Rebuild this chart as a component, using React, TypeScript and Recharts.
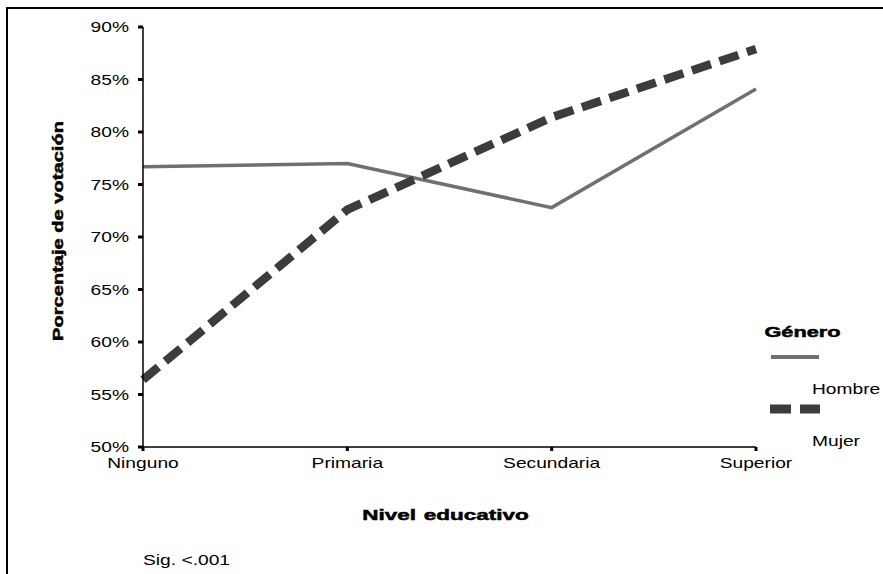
import { LineChart, Line, XAxis, YAxis, Label } from 'recharts';

const niveles = ['Ninguno', 'Primaria', 'Secundaria', 'Superior'];
const hombre = [0.767, 0.770, 0.728, 0.841];
const mujer = [0.564, 0.726, 0.814, 0.879];
const yTicks = [0.5, 0.55, 0.6, 0.65, 0.7, 0.75, 0.8, 0.85, 0.9];

const data = niveles.map((n, i) => ({ nivel: n, Hombre: hombre[i], Mujer: mujer[i] }));

const font = '"Liberation Sans", Arial, sans-serif';
const SX = 1.28; // reference text is stretched wide
const pct = (v: number) => `${Math.round(v * 100)}%`;
const heavy = { fontWeight: 'bold' as const, stroke: '#000', strokeWidth: 0.5 };

const YTick = (p: any) => (
  <g transform={`translate(${p.x},${p.y}) scale(${SX},1)`}>
    <text x={0} y={0} dy="0.36em" textAnchor="end" fontSize={15} fill="#000" fontFamily={font}>{pct(p.payload.value)}</text>
  </g>
);

const XTick = (p: any) => (
  <g transform={`translate(${p.x},${p.y}) scale(${SX},1)`}>
    <text x={0} y={0} dy={12} textAnchor="middle" fontSize={15} fill="#000" fontFamily={font}>{p.payload.value}</text>
  </g>
);

const YTitle = (p: any) => {
  const vb = p.viewBox;
  return (
    <g transform={`translate(${vb.x + 20},${vb.y + vb.height / 2 - 6}) rotate(-90) scale(1.34,1)`}>
      <text x={0} y={0} textAnchor="middle" fontSize={15} fill="#000" fontFamily={font} {...heavy}>Porcentaje de votación</text>
    </g>
  );
};

const XTitle = (p: any) => {
  const vb = p.viewBox;
  return (
    <g transform={`translate(${vb.x + vb.width / 2 - 4},${vb.y + 73}) scale(1.5,1)`}>
      <text x={0} y={0} textAnchor="middle" fontSize={15} fill="#000" fontFamily={font} wordSpacing={1} {...heavy}>Nivel educativo</text>
    </g>
  );
};

const LegendBox = () => (
  <svg width={120} height={140} style={{ position: 'absolute', left: 763, top: 318, fontFamily: font }}>
    <text x={1} y={19} fontSize={15} fill="#000" transform="scale(1.45,1)" {...heavy}>Género</text>
    <line x1={8} x2={56} y1={39} y2={39} stroke="#707070" strokeWidth={4} />
    <text x={49 / SX} y={76} fontSize={15} fill="#000" transform={`scale(${SX},1)`}>Hombre</text>
    <line x1={7} x2={57} y1={91} y2={91} stroke="#3c3c3c" strokeWidth={9} strokeDasharray="21 9" />
    <text x={49 / SX} y={128} fontSize={15} fill="#000" transform={`scale(${SX},1)`}>Mujer</text>
  </svg>
);

export default function App() {
  return (
    <div style={{ position: 'absolute', left: 0, top: 0, width: 883, height: 574, background: '#fff', fontFamily: font, overflow: 'hidden' }}>
      <div style={{ position: 'absolute', left: 6, top: 7, width: 900, height: 600, borderTop: '2px solid #000', borderLeft: '2px solid #000' }} />
      <LineChart width={883} height={574} data={data} margin={{ top: 27, right: 127, left: 43, bottom: 47 }}>
        <XAxis
          dataKey="nivel"
          height={80}
          padding={{ left: 0, right: 0 }}
          stroke="#000"
          strokeWidth={1.5}
          tickSize={4}
          tickMargin={5}
          tickLine={{ stroke: '#000', strokeWidth: 3 }}
          tick={<XTick />}
        >
          <Label content={<XTitle />} />
        </XAxis>
        <YAxis
          width={100}
          domain={[0.5, 0.9]}
          ticks={yTicks}
          interval={0}
          stroke="#000"
          strokeWidth={1.5}
          tickSize={5}
          tickMargin={9}
          tickLine={{ stroke: '#000', strokeWidth: 3 }}
          tick={<YTick />}
        >
          <Label content={<YTitle />} />
        </YAxis>
        <Line dataKey="Hombre" stroke="#707070" strokeWidth={3.5} dot={false} activeDot={false} isAnimationActive={false} type="linear" />
        <Line dataKey="Mujer" stroke="#3c3c3c" strokeWidth={8.5} strokeDasharray="20 9" dot={false} activeDot={false} isAnimationActive={false} type="linear" />
      </LineChart>
      <LegendBox />
      <div style={{ position: 'absolute', left: 143, top: 551, fontSize: 15, color: '#000', transform: `scaleX(${SX})`, transformOrigin: 'left top' }}>Sig. &lt;.001</div>
    </div>
  );
}
